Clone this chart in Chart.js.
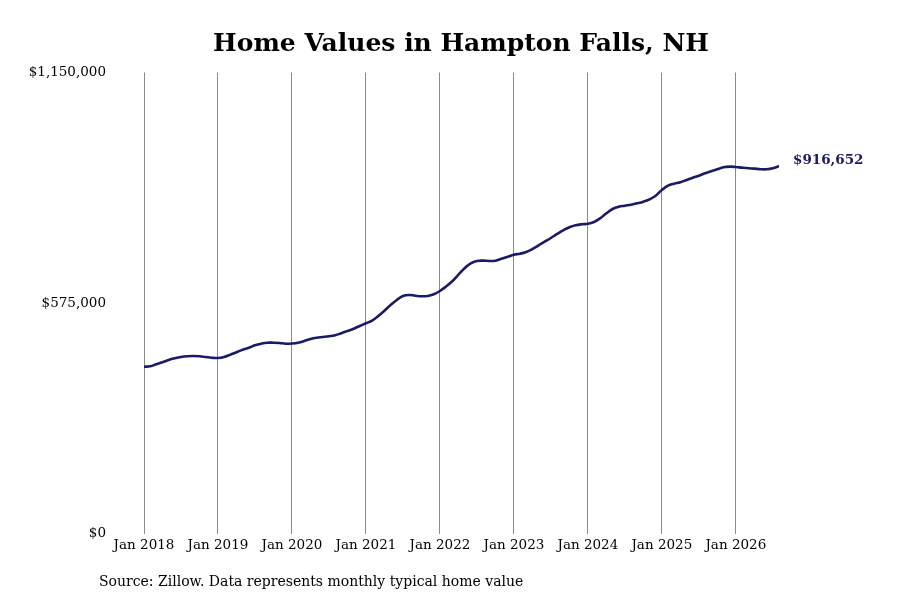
<!DOCTYPE html>
<html>
<head>
<meta charset="utf-8">
<script src="https://cdn.jsdelivr.net/npm/chart.js@4/dist/chart.umd.min.js"></script>
<style>
  html,body{margin:0;padding:0;background:#fff;}
  #wrap{position:relative;width:900px;height:600px;overflow:hidden;}
  #c{position:absolute;left:0;top:0;}
  #title{position:absolute;left:0;width:922px;top:26px;text-align:center;font-family:"DejaVu Serif",serif;font-weight:bold;font-size:25px;color:#000;line-height:34px;}
  #source{position:absolute;left:99px;top:572px;font-family:"DejaVu Serif",serif;font-size:14px;color:#000;line-height:18px;}
</style>
</head>
<body>
<div id="wrap">
  <canvas id="c" width="900" height="600"></canvas>
  <div id="title">Home Values in Hampton Falls, NH</div>
  <div id="source">Source: Zillow. Data represents monthly typical home value</div>
</div>
<script>
// Monthly typical home values, Jan 2018 onward (USD)
const values = [
  416100, 417100, 422100, 427100, 432900, 437100, 440300, 442100, 442800, 442100, 440300, 438600,
  437800, 440300, 446100, 452100, 458500, 463500, 469500, 473500, 476000, 476000, 475300, 473500,
  474000, 476000, 480200, 485200, 488500, 490200, 492000, 494500, 499500, 505200, 510900, 517700,
  524400, 530900, 542600, 555800, 570100, 582500, 592500, 595000, 593200, 591800, 592500, 596700,
  605000, 616200, 629200, 645600, 661600, 674100, 679800, 680600, 679800, 680600, 685500, 690500,
  695500, 698000, 702300, 709700, 719000, 728000, 737200, 747200, 756400, 763900, 768900, 771400,
  772600, 777100, 786300, 798800, 809500, 815300, 817800, 820300, 823700, 827800, 833700, 842700,
  856900, 867700, 872700, 876100, 881900, 887600, 892600, 898600, 903600, 908600, 913500, 915100,
  914300, 912600, 911100, 910100, 908800, 908600, 911000, 916652
];
const tickLabels = ['Jan 2018','Jan 2019','Jan 2020','Jan 2021','Jan 2022','Jan 2023','Jan 2024','Jan 2025','Jan 2026'];
const yTicks = [0, 575000, 1150000];

const fmt = v => '$' + Math.round(v).toLocaleString('en-US');
const lineColor = '#1b1a66';
const fontFamily = '"DejaVu Serif", serif';

const endLabel = {
  id: 'endLabel',
  afterDatasetsDraw(chart) {
    const meta = chart.getDatasetMeta(0);
    const pt = meta.data[meta.data.length - 1];
    const ctx = chart.ctx;
    ctx.save();
    ctx.font = 'bold 13.5px ' + fontFamily;
    ctx.fillStyle = lineColor;
    ctx.textAlign = 'left';
    ctx.textBaseline = 'middle';
    ctx.fillText(fmt(values[values.length - 1]), pt.x + 14, pt.y - 6);
    ctx.restore();
  }
};

new Chart(document.getElementById('c'), {
  type: 'line',
  data: {
    datasets: [{
      data: values.map((v, i) => ({x: i, y: v})),
      borderColor: lineColor,
      borderWidth: 2.6,
      pointRadius: 0,
      tension: 0.4,
      fill: false
    }]
  },
  options: {
    responsive: false,
    animation: false,
    devicePixelRatio: 1,
    layout: {padding: {top: 72.5, right: 121, bottom: 46, left: 0}},
    plugins: {legend: {display: false}, tooltip: {enabled: false}, title: {display: false}},
    scales: {
      x: {
        type: 'linear',
        min: 0,
        max: values.length - 1,
        border: {display: false},
        grid: {color: '#8a8a8a', lineWidth: 1, drawTicks: false},
        afterBuildTicks(scale) {
          scale.ticks = tickLabels.map((t, i) => ({value: i * 12}));
        },
        afterFit(scale) { scale.height = 20.5; },
        ticks: {
          autoSkip: false,
          maxRotation: 0,
          padding: 4,
          color: '#000',
          font: {family: fontFamily, size: 13.5},
          callback: (v) => tickLabels[Math.round(v / 12)]
        }
      },
      y: {
        min: 0,
        max: yTicks[yTicks.length - 1],
        border: {display: false},
        grid: {display: false, drawTicks: false},
        afterBuildTicks(scale) {
          scale.ticks = yTicks.map(v => ({value: v}));
        },
        afterFit(scale) { scale.width = 144; },
        ticks: {
          padding: 38,
          color: '#000',
          font: {family: fontFamily, size: 13.5},
          callback: (v) => fmt(v)
        }
      }
    }
  },
  plugins: [endLabel]
});
</script>
</body>
</html>
